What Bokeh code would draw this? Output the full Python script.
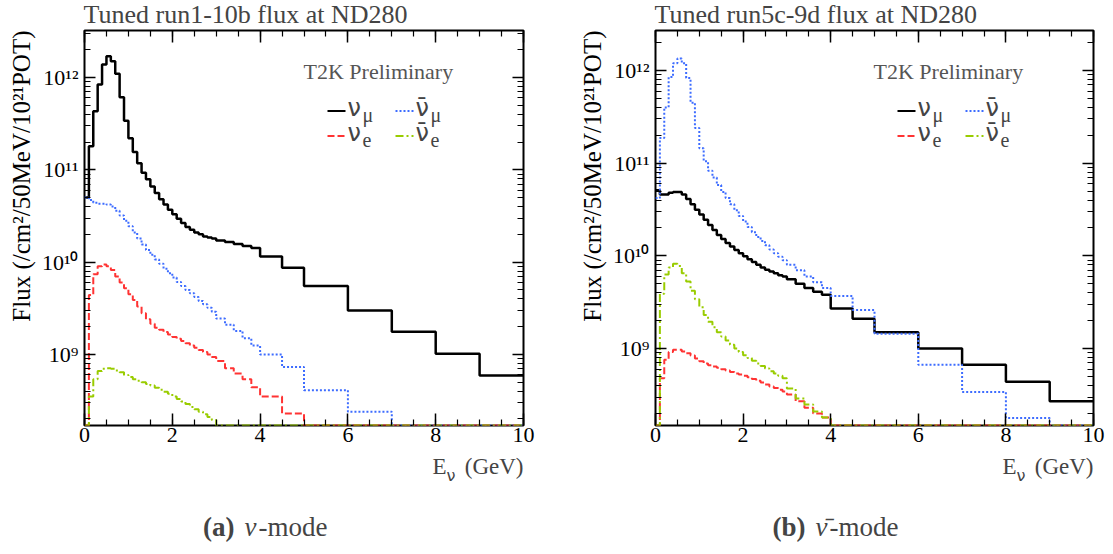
import numpy as np
from bokeh.plotting import figure
from bokeh.layouts import row, column
from bokeh.models import (Range1d, LogAxis, LinearAxis, LogTicker, SingleIntervalTicker,
                          CustomJSTickFormatter, Label, Arrow, Title)
from bokeh.embed import file_html
from bokeh.resources import INLINE

# ---------------- data ----------------
bin_edges = [0.0, 0.1, 0.2, 0.3, 0.4, 0.5, 0.6, 0.7, 0.8, 0.9,
             1.0, 1.1, 1.2, 1.3, 1.4, 1.5, 1.6, 1.7, 1.8, 1.9,
             2.0, 2.1, 2.2, 2.3, 2.4, 2.5, 2.6, 2.7, 2.8, 2.9,
             3.0, 3.2, 3.4, 3.6, 3.8, 4.0, 4.5, 5.0, 6.0, 7.0, 8.0, 9.0, 10.0]

# nu-mode (run1-10b)
fhc_numu = [5.0e10, 1.8e11, 4.3e11, 8.4e11, 1.38e12, 1.7e12, 1.5e12, 1.1e12, 6.1e11, 3.4e11,
            2.2e11, 1.56e11, 1.18e11, 9.3e10, 7.9e10, 6.6e10, 5.6e10, 4.8e10, 4.2e10, 3.7e10,
            3.3e10, 2.95e10, 2.65e10, 2.4e10, 2.25e10, 2.1e10, 2.0e10, 1.9e10, 1.85e10, 1.8e10,
            1.72e10, 1.65e10, 1.57e10, 1.5e10, 1.42e10,
            1.15e10, 8.7e9, 5.5e9, 3.0e9, 1.76e9, 1.02e9, 5.9e8]
fhc_numubar = [5.0e10, 4.7e10, 4.4e10, 4.3e10, 4.3e10, 4.2e10, 4.0e10, 3.6e10, 3.2e10, 2.8e10,
               2.45e10, 2.1e10, 1.8e10, 1.55e10, 1.35e10, 1.2e10, 1.07e10, 9.6e9, 8.5e9, 7.6e9,
               6.8e9, 6.1e9, 5.5e9, 5.0e9, 4.6e9, 4.2e9, 3.8e9, 3.5e9, 3.2e9, 2.9e9,
               2.45e9, 2.1e9, 1.8e9, 1.5e9, 1.25e9,
               1.0e9, 7.3e8, 4.1e8, 2.4e8, 1.2e8, 8.0e7, 5.0e7]
fhc_nue = [1.0e8, 4.4e9, 7.4e9, 9.0e9, 9.4e9, 9.0e9, 8.2e9, 7.0e9, 6.0e9, 5.2e9,
           4.5e9, 3.9e9, 3.3e9, 2.8e9, 2.4e9, 2.15e9, 1.95e9, 1.85e9, 1.75e9, 1.65e9,
           1.55e9, 1.48e9, 1.4e9, 1.32e9, 1.25e9, 1.18e9, 1.12e9, 1.06e9, 1.0e9, 9.4e8,
           8.5e8, 7.1e8, 6.2e8, 5.4e8, 4.4e8,
           3.5e8, 2.3e8, 1.2e8, 8.0e7, 5.0e7, 3.0e7, 2.0e7]
fhc_nuebar = [8.0e7, 3.5e8, 5.4e8, 6.6e8, 7.0e8, 7.1e8, 7.0e8, 6.7e8, 6.4e8, 6.0e8,
              5.7e8, 5.4e8, 5.2e8, 5.0e8, 4.8e8, 4.6e8, 4.35e8, 4.15e8, 3.95e8, 3.75e8,
              3.5e8, 3.3e8, 3.1e8, 2.9e8, 2.7e8, 2.55e8, 2.4e8, 2.25e8, 2.1e8, 1.95e8,
              1.6e8, 1.4e8, 1.2e8, 1.0e8, 9.0e7,
              7.0e7, 5.0e7, 3.0e7, 2.0e7, 1.0e7, 8.0e6, 5.0e6]

# antinu-mode (run5c-9d)
rhc_numu = [5.1e10, 4.6e10, 4.6e10, 4.8e10, 4.9e10, 4.9e10, 4.6e10, 4.1e10, 3.6e10, 3.15e10,
            2.8e10, 2.45e10, 2.15e10, 1.9e10, 1.68e10, 1.52e10, 1.38e10, 1.26e10, 1.16e10, 1.07e10,
            9.9e9, 9.2e9, 8.6e9, 8.0e9, 7.5e9, 7.1e9, 6.8e9, 6.5e9, 6.2e9, 6.0e9,
            5.6e9, 5.0e9, 4.5e9, 4.1e9, 3.8e9,
            2.7e9, 2.1e9, 1.5e9, 1.0e9, 6.7e8, 4.4e8, 2.7e8]
rhc_numubar = [4.2e10, 1.87e11, 4.0e11, 8.5e11, 1.2e12, 1.35e12, 1.2e12, 8.3e11, 4.5e11, 2.4e11,
               1.45e11, 1.05e11, 8.3e10, 7.0e10, 5.8e10, 4.9e10, 4.2e10, 3.6e10, 3.1e10, 2.7e10,
               2.35e10, 2.05e10, 1.8e10, 1.6e10, 1.45e10, 1.3e10, 1.17e10, 1.07e10, 9.8e9, 9.0e9,
               8.0e9, 7.0e9, 6.0e9, 5.2e9, 4.5e9,
               3.7e9, 2.6e9, 1.45e9, 6.7e8, 3.4e8, 1.78e8, 8.0e7]
rhc_nue = [8.0e7, 4.8e8, 7.6e8, 9.2e8, 9.7e8, 9.7e8, 9.3e8, 8.9e8, 8.4e8, 7.8e8,
           7.3e8, 6.9e8, 6.6e8, 6.4e8, 6.2e8, 6.0e8, 5.8e8, 5.6e8, 5.4e8, 5.25e8,
           5.1e8, 4.9e8, 4.7e8, 4.5e8, 4.3e8, 4.1e8, 3.9e8, 3.75e8, 3.6e8, 3.45e8,
           3.2e8, 2.7e8, 2.3e8, 2.0e8, 1.8e8,
           1.1e8, 9.0e7, 6.0e7, 4.0e7, 3.0e7, 2.0e7, 1.0e7]
rhc_nuebar = [8.0e7, 3.9e9, 6.3e9, 7.5e9, 8.2e9, 7.8e9, 6.5e9, 5.3e9, 4.2e9, 3.4e9,
              2.8e9, 2.3e9, 1.95e9, 1.7e9, 1.5e9, 1.35e9, 1.22e9, 1.1e9, 1.0e9, 9.2e8,
              8.5e8, 7.9e8, 7.4e8, 6.9e8, 6.5e8, 6.1e8, 5.7e8, 5.4e8, 5.1e8, 4.8e8,
              3.7e8, 2.9e8, 2.5e8, 2.1e8, 1.8e8,
              1.0e8, 7.0e7, 5.0e7, 3.0e7, 2.0e7, 1.0e7, 5.0e6]

x_ticks_interval = 2
titles = ["Tuned run1-10b flux at ND280", "Tuned run5c-9d flux at ND280"]
y_label = "Flux (/cm\u00b2/50MeV/10\u00b2\u00b9POT)"
prelim = "T2K Preliminary"

# ---------------- styles ----------------
SERIF = "Liberation Serif"
GREEK = "DejaVu Sans"
COL = {"numu": "black", "numubar": "#3d6cff", "nue": "#ff3333", "nuebar": "#99cc00"}
DASH = {"numu": "solid", "numubar": "2 2", "nue": "7 3", "nuebar": "8 3 2 3"}
WID = {"numu": 2.5, "numubar": 2, "nue": 2, "nuebar": 2}

TOP_H = 28      # title strip
FH = 395        # frame height
BOT = 28        # border below frame (tick labels)
PLOT_H = 2 + FH + BOT
CAP_H = 554 - TOP_H - PLOT_H   # caption strip

sup_fmt = CustomJSTickFormatter(code="""
const s = {'0':'\u2070','1':'\u00b9','2':'\u00b2','3':'\u00b3','4':'\u2074','5':'\u2075',
           '6':'\u2076','7':'\u2077','8':'\u2078','9':'\u2079','-':'\u207b'};
const e = Math.round(Math.log10(tick));
return '10' + String(e).split('').map(c => s[c]).join('');
""")
blank_fmt = CustomJSTickFormatter(code="return '';")


def style_axis(ax, major_in, minor_in, labels=True):
    ax.axis_line_color = None
    ax.major_tick_in = major_in
    ax.major_tick_out = 0
    ax.minor_tick_in = minor_in
    ax.minor_tick_out = 0
    ax.major_tick_line_color = "black"
    ax.minor_tick_line_color = "black"
    ax.major_tick_line_width = 1.5
    ax.minor_tick_line_width = 1.2
    if labels:
        ax.major_label_text_font = SERIF
        ax.major_label_text_font_size = "22px"
        ax.major_label_text_color = "black"
    else:
        ax.formatter = blank_fmt
        ax.major_label_text_font_size = "0px"
        ax.major_label_standoff = 0


def lab(p, x, y_base, text, size, **kw):
    """Place a label so that its alphabetic baseline sits at y_base (screen, from bottom)."""
    kw.setdefault("text_font", SERIF)
    mid = y_base + 0.34 * size
    p.add_layout(Label(x=x, y=mid, x_units="screen", y_units="screen", text=text,
                       text_font_size=f"{size}px", text_baseline="middle", **kw))


def strip(width, height):
    f = figure(width=width, height=height, x_range=Range1d(0, 1), y_range=Range1d(0, 1),
               output_backend="svg", toolbar_location=None, title=None,
               x_axis_location=None, y_axis_location=None, frame_align=False,
               min_border=0, min_border_left=0, min_border_right=0,
               min_border_top=0, min_border_bottom=0)
    f.outline_line_color = None
    f.grid.visible = False
    f.background_fill_color = "white"
    f.border_fill_color = "white"
    return f


def panel(width, bl, br, ylo, yhi, title, series, cap_tag, cap_nu):
    fw = width - bl - br
    # ---- title strip
    t = strip(width, TOP_H)
    lab(t, bl - 1, TOP_H - 23, title, 26)

    # ---- main plot
    p = figure(width=width, height=PLOT_H, title=None, x_range=Range1d(0, 10),
               y_range=Range1d(ylo, yhi), y_axis_type="log",
               output_backend="svg", toolbar_location=None, frame_align=False,
               min_border_left=bl, min_border_right=br, min_border_top=2,
               min_border_bottom=BOT)
    p.background_fill_color = "white"
    p.border_fill_color = "white"
    p.outline_line_color = "black"
    p.outline_line_width = 2
    p.xgrid.visible = False
    p.ygrid.visible = False

    p.xaxis[0].ticker = SingleIntervalTicker(interval=x_ticks_interval, num_minor_ticks=4)
    style_axis(p.xaxis[0], 12, 6)
    p.xaxis[0].major_label_standoff = 2
    p.yaxis[0].ticker = LogTicker(num_minor_ticks=10)
    p.yaxis[0].formatter = sup_fmt
    style_axis(p.yaxis[0], 11, 6)
    p.yaxis[0].major_label_standoff = 6

    top = LinearAxis(ticker=SingleIntervalTicker(interval=x_ticks_interval, num_minor_ticks=4))
    style_axis(top, 12, 6, labels=False)
    p.add_layout(top, "above")
    right = LogAxis(ticker=LogTicker(num_minor_ticks=10))
    style_axis(right, 11, 6, labels=False)
    p.add_layout(right, "right")

    p.add_layout(Title(text=y_label, align="right", text_font=SERIF, text_font_size="25px",
                       text_font_style="normal", text_color="black", standoff=7), "left")

    for key in ["numu", "numubar", "nue", "nuebar"]:
        vals = np.maximum(np.array(series[key]), ylo)
        ys = list(vals) + [vals[-1]]
        p.step(bin_edges, ys, mode="after", line_color=COL[key], line_width=WID[key],
               line_dash=DASH[key])

    # preliminary tag (baseline ~ 78 px from top)
    lab(p, fw - 220, FH + 30 - 78, prelim, 22, text_color="#555555")
    # legend
    base_y = [FH + 30 - 116, FH + 30 - 141]   # baselines of the nu glyphs
    cols_x = [fw - 196, fw - 128]
    items = [("numu", "\u03bd", "\u03bc", 0, 0), ("numubar", "\u03bd\u0304", "\u03bc", 0, 1),
             ("nue", "\u03bd", "e", 1, 0), ("nuebar", "\u03bd\u0304", "e", 1, 1)]
    for key, nu, sub, r, c in items:
        x0 = cols_x[c]
        yb = base_y[r]
        p.add_layout(Arrow(end=None, x_start=x0, y_start=yb + 5.5, x_end=x0 + 18, y_end=yb + 5.5,
                           start_units="screen", end_units="screen",
                           line_color=COL[key], line_width=2, line_dash=DASH[key]))
        lab(p, x0 + 20, yb, nu, 24, text_font=GREEK)
        lab(p, x0 + 35, yb - 5, sub, 20)

    # ---- caption strip (x label + sub-caption); strip spans 453..554 in page px
    c = strip(width, CAP_H)
    xr = bl + fw
    lab(c, xr, 554 - 474, "(GeV)", 23, text_align="right")
    lab(c, xr - 91, 554 - 474, "E", 23)
    lab(c, xr - 77, 554 - 480, "\u03bd", 16, text_font=GREEK)
    cx = bl + 150
    lab(c, cx, 554 - 536, cap_tag, 27, text_align="right", text_font_style="bold")
    lab(c, cx + 10, 554 - 536, cap_nu, 27, text_font_style="italic")
    lab(c, cx + 24, 554 - 536, "-mode", 27)
    return column(t, p, c)


p1 = panel(556, 84, 33, 1.70e8, 3.23e12, titles[0],
           {"numu": fhc_numu, "numubar": fhc_numubar, "nue": fhc_nue, "nuebar": fhc_nuebar},
           "(a)", "\u03bd")
p2 = panel(557, 99, 20, 1.48e8, 2.70e12, titles[1],
           {"numu": rhc_numu, "numubar": rhc_numubar, "nue": rhc_nue, "nuebar": rhc_nuebar},
           "(b)", "\u03bd\u0304")

layout = row(p1, p2)
open("out.html", "w").write(file_html(layout, INLINE))
